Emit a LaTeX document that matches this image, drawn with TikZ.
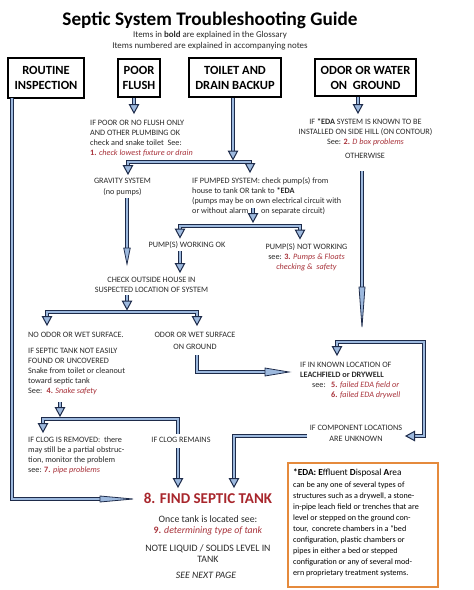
\documentclass[tikz,border=0pt]{standalone}
\usepackage{fontspec}
\setmainfont{Carlito}
\usetikzlibrary{calc}
\definecolor{navy}{HTML}{1E2B4A}
\definecolor{pipeblue}{HTML}{9DB9DE}
\definecolor{txt}{HTML}{2A2A2A}
\definecolor{lnk}{HTML}{A8323A}
\definecolor{findred}{HTML}{A8262C}
\definecolor{orng}{HTML}{E58A3C}
\newcommand{\rd}[1]{\textcolor{lnk}{\textbf{#1}}}
\newcommand{\ri}[1]{\textcolor{lnk}{\textit{#1}}}
\newcommand{\bhead}[2]{\filldraw[headstyle, shift={(#1)}, rotate=#2] (-4.6,-8.5) -- (4.6,-8.5) -- (0,0) -- cycle;}
\newcommand{\needle}[4]{\filldraw[headstyle, line width=0.8pt, shift={(#1)}, rotate=#2] (-#4/2,-#3) -- (#4/2,-#3) -- (0,0) -- cycle;}
\tikzset{
 pipe/.style={draw=navy, line width=1.2pt, double=pipeblue, double distance=2.4pt, line join=miter},
 headstyle/.style={fill=pipeblue, draw=navy, line width=1pt, line join=miter},
 sm/.style={font=\fontsize{8.2}{10}\selectfont, text=txt, inner sep=0pt},
 boxst/.style={draw=black, line width=1.8pt, font=\fontsize{12.5}{15}\selectfont\bfseries, align=center, inner sep=0pt, text=black},
}
\begin{document}
\begin{tikzpicture}[x=1pt, y=-1pt]
\useasboundingbox[fill=white] (0,0) rectangle (474,590);
% title
\node[font=\fontsize{19.2}{22}\selectfont\bfseries, anchor=base, inner sep=0pt] (title) at (210,25) {Septic System Troubleshooting Guide};
\node[font=\fontsize{8.9}{10}\selectfont, text=txt, anchor=base, inner sep=0pt] (sub1) at (210,37) {Items in \textbf{bold} are explained in the Glossary};
\node[font=\fontsize{8.9}{10}\selectfont, text=txt, anchor=base, inner sep=0pt] (sub2) at (210,48) {Items numbered are explained in accompanying notes};
% boxes
\node[boxst, minimum width=76, minimum height=40] (routine) at (46,78) {ROUTINE\\INSPECTION};
\node[boxst, minimum width=42, minimum height=38] (poor) at (139,78) {POOR\\FLUSH};
\node[boxst, minimum width=92, minimum height=39] (toilet) at (235,77.5) {TOILET AND\\DRAIN BACKUP};
\node[boxst, minimum width=101, minimum height=37] (odor) at (365.5,77.5) {ODOR OR WATER\\ON~ GROUND};
% texts (multi-line nodes: base = last line)
\node[sm, anchor=base west, align=left] (poortxt) at (90,155) {IF POOR OR NO FLUSH ONLY\\AND OTHER PLUMBING OK\\check and snake toilet~ See:\\\rd{1.} \ri{check lowest fixture or drain}};
\node[sm, anchor=base, align=center, font=\fontsize{8.2}{11}\selectfont] (grav) at (122.5,194) {GRAVITY SYSTEM\\(no pumps)};
\node[sm, anchor=base west, align=left] (pumped) at (192,213) {IF PUMPED SYSTEM: check pump(s) from\\house to tank OR tank to \textbf{*EDA}\\(pumps may be on own electrical circuit with\\or without alarm \hspace{9pt} on separate circuit)};
\node[sm, anchor=base, align=center] (odortxt) at (365.5,144) {IF \textbf{*EDA} SYSTEM IS KNOWN TO BE\\INSTALLED ON SIDE HILL (ON CONTOUR)\\See: \rd{2.} \ri{D box problems}};
\node[sm, anchor=base] (otherwise) at (365,158) {OTHERWISE};
\node[sm, anchor=base] (pumpok) at (187,247) {PUMP(S) WORKING OK};
\node[sm, anchor=base, align=center] (pumpnot) at (306.5,269) {PUMP(S) NOT WORKING\\see: \rd{3.} \ri{Pumps \& Floats}\\\ri{checking \&~ safety}};
\node[sm, anchor=base, align=center] (check) at (151.5,292) {CHECK OUTSIDE HOUSE IN\\SUSPECTED LOCATION OF SYSTEM};
\node[sm, anchor=base west] (noodor) at (28,337) {NO ODOR OR WET SURFACE.};
\node[sm, anchor=base west, align=left] (septic) at (28,393) {IF SEPTIC TANK NOT EASILY\\FOUND OR UNCOVERED\\Snake from toilet or cleanout\\toward septic tank\\See:~ \rd{4.} \ri{Snake safety}};
\node[sm, anchor=base, align=center, font=\fontsize{8.2}{12}\selectfont] (odorwet) at (195,349) {ODOR OR WET SURFACE\\ON GROUND};
\node[sm, anchor=base west, align=left] (clogrem) at (28,472) {IF CLOG IS REMOVED:~ there\\may still be a partial obstruc-\\tion, monitor the problem\\see: \rd{7.} \ri{pipe problems}};
\node[sm, anchor=base] (clogstays) at (181,442) {IF CLOG REMAINS};
\node[sm, anchor=base west, align=left] (known) at (300,377) {IF IN KNOWN LOCATION OF\\\textbf{LEACHFIELD or DRYWELL}};
\node[sm, anchor=base west] (seeA) at (312,387) {see:};
\node[sm, anchor=base west, align=left] (fivesix) at (331,397) {\rd{5.} \ri{failed EDA field or}\\\rd{6.} \ri{failed EDA drywell}};
\node[sm, anchor=base, align=center, font=\fontsize{8.2}{11}\selectfont] (compon) at (356,441) {IF COMPONENT LOCATIONS\\ARE UNKNOWN};
\node[anchor=base, inner sep=0pt, font=\fontsize{15}{18}\selectfont\bfseries, text=findred] (find) at (208,503) {8. FIND SEPTIC TANK};
\node[anchor=base, inner sep=0pt, font=\fontsize{9.8}{11}\selectfont, text=txt] (once) at (208,522) {Once tank is located see:};
\node[anchor=base, inner sep=0pt, font=\fontsize{9.8}{11}\selectfont, text=txt] (nine) at (208,533) {\rd{9.} \ri{determining type of tank}};
\node[anchor=base, inner sep=0pt, align=center, font=\fontsize{9.8}{11}\selectfont, text=txt] (note) at (208,562) {NOTE LIQUID / SOLIDS LEVEL IN\\TANK};
\node[anchor=base, inner sep=0pt, font=\fontsize{9.8}{11}\selectfont\itshape, text=txt] (nextpg) at (206,578) {SEE NEXT PAGE};
% EDA box
\node[draw=orng, line width=2pt, minimum width=150, minimum height=124, inner sep=0pt] (edabox) at (363,525) {};
\node[anchor=base west, inner sep=0pt, font=\fontsize{9.3}{11}\selectfont, text=black] (edahead) at (293,475) {\textbf{*EDA: E}ffluent \textbf{D}isposal \textbf{A}rea};
\node[anchor=base west, inner sep=0pt, align=left, font=\fontsize{8.1}{11}\selectfont, text=black] (edabody) at (293,575) {can be any one of several types of\\structures such as a drywell, a stone-\\in-pipe leach field or trenches that are\\level or stepped on the ground con-\\tour,~ concrete chambers in a “bed\\configuration, plastic chambers or\\pipes in either a bed or stepped\\configuration or any of several mod-\\ern proprietary treatment systems.};
% coordinates
\coordinate (rA) at (12,98); \coordinate (rB) at (12,499); \coordinate (rC) at (101,499); \coordinate (rT) at (133,499);
\coordinate (pA) at (134,98); \coordinate (pB) at (134,106); \coordinate (pT) at (134,113);
\coordinate (tA) at (233,98); \coordinate (tB) at (233,153); \coordinate (tT) at (233,159.5);
\coordinate (bL0) at (128,167); \coordinate (bL) at (128,162); \coordinate (bR) at (250,162); \coordinate (bR0) at (250,165);
\coordinate (gL) at (128,174); \coordinate (gR) at (250,172);
\coordinate (gA) at (127,198); \coordinate (gB) at (127,250); \coordinate (gT) at (127,264);
\coordinate (aA) at (253,208); \coordinate (aB) at (253,215); \coordinate (aT) at (253,222);
\coordinate (cL0) at (180,230); \coordinate (cL) at (180,226); \coordinate (cR) at (300,226); \coordinate (cR0) at (300,231);
\coordinate (kL) at (180,237.5); \coordinate (kR) at (300,238.5);
\coordinate (oA) at (180,251); \coordinate (oB) at (180,265); \coordinate (oT) at (180,272);
\coordinate (hA) at (127,295); \coordinate (hB) at (127,303); \coordinate (hT) at (127,309.5);
\coordinate (dL0) at (47,318); \coordinate (dL) at (47,312); \coordinate (dR) at (197,312); \coordinate (dR0) at (197,318);
\coordinate (eL) at (47,325); \coordinate (eR) at (197,325);
\coordinate (wA) at (197,355); \coordinate (wB) at (197,372); \coordinate (wC) at (266,372); \coordinate (wT) at (289,372);
\coordinate (xA) at (358,97); \coordinate (xB) at (358,106); \coordinate (xT) at (358,113);
\coordinate (yA) at (362,171); \coordinate (yB) at (362,288); \coordinate (yT) at (362,327);
\coordinate (zL0) at (337,348); \coordinate (zL) at (337,342); \coordinate (zR) at (424,342); \coordinate (zR2) at (424,436); \coordinate (zE) at (414,436);
\coordinate (zLT) at (337,355); \coordinate (zET) at (406,436);
\coordinate (qA) at (307,436); \coordinate (qB) at (234,436); \coordinate (qC) at (234,480); \coordinate (qT) at (234,487);
\coordinate (sA) at (60,402); \coordinate (sB) at (60,409); \coordinate (sT) at (60,416);
\coordinate (uL0) at (43,425); \coordinate (uL) at (43,419); \coordinate (uR) at (178,419); \coordinate (uR0) at (178,434); \coordinate (uT) at (43,432);
\coordinate (mA) at (178,448); \coordinate (mB) at (178,480); \coordinate (mT) at (178,487);
% pipes
\draw[pipe] (rA) -- (rB) -- (rC); \needle{rT}{90}{33}{6}
\draw[pipe] (pA) -- (pB); \bhead{pT}{0}
\draw[pipe] (tA) -- (tB); \bhead{tT}{0}
\draw[pipe] (bL0) -- (bL) -- (bR) -- (bR0); \bhead{gL}{0} \bhead{gR}{0}
\draw[pipe] (gA) -- (gB); \needle{gT}{0}{16}{6.5}
\draw[pipe] (aA) -- (aB); \bhead{aT}{0}
\draw[pipe] (cL0) -- (cL) -- (cR) -- (cR0); \bhead{kL}{0} \bhead{kR}{0}
\draw[pipe] (oA) -- (oB); \bhead{oT}{0}
\draw[pipe] (hA) -- (hB); \bhead{hT}{0}
\draw[pipe] (dL0) -- (dL) -- (dR) -- (dR0); \bhead{eL}{0} \bhead{eR}{0}
\draw[pipe] (wA) -- (wB) -- (wC); \needle{wT}{90}{24}{8}
\draw[pipe] (xA) -- (xB); \bhead{xT}{0}
\draw[pipe] (yA) -- (yB); \needle{yT}{0}{40}{6}
\draw[pipe] (zL0) -- (zL) -- (zR) -- (zR2) -- (zE); \bhead{zLT}{0} \bhead{zET}{-90}
\draw[pipe] (qA) -- (qB) -- (qC); \bhead{qT}{0}
\draw[pipe] (sA) -- (sB); \bhead{sT}{0}
\draw[pipe] (uL0) -- (uL) -- (uR) -- (uR0); \bhead{uT}{0}
\draw[pipe] (mA) -- (mB); \bhead{mT}{0}
\end{tikzpicture}
\end{document}
